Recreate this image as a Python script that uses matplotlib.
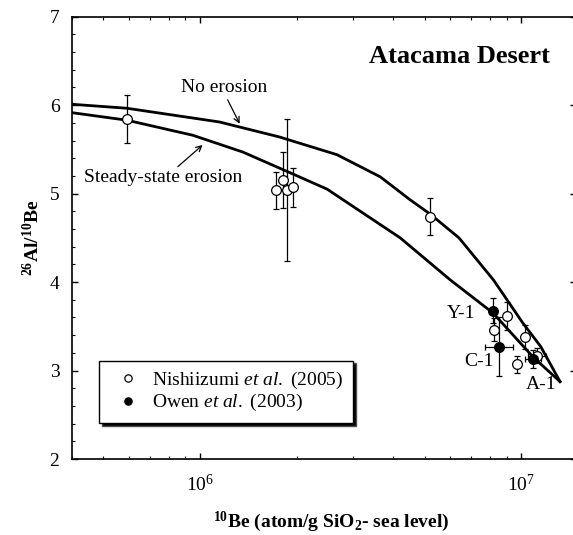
import numpy as np
import matplotlib
matplotlib.use("Agg")
import matplotlib.pyplot as plt
from matplotlib.ticker import MultipleLocator, NullFormatter

plt.rcParams['font.family'] = ['Liberation Serif', 'DejaVu Serif']
plt.rcParams['mathtext.fontset'] = 'custom'
plt.rcParams['mathtext.rm'] = 'Liberation Serif'
plt.rcParams['mathtext.it'] = 'Liberation Serif:italic'
plt.rcParams['mathtext.bf'] = 'Liberation Serif:bold'

# model curves (10Be, 26Al/10Be)
no_eros_x = [4.0e5, 5.93e5, 1.15e6, 1.77e6, 2.67e6, 3.64e6, 4.51e6, 5.2e6, 6.4e6, 8.19e6, 1.01e7, 1.15e7, 1.32e7]
no_eros_y = [6.01, 5.965, 5.81, 5.64, 5.44, 5.19, 4.93, 4.77, 4.50, 4.025, 3.54, 3.27, 2.875]
ss_eros_x = [4.0e5, 5.93e5, 9.5e5, 1.36e6, 1.87e6, 2.49e6, 2.79e6, 4.20e6, 6.01e6, 8.17e6, 1.09e7, 1.32e7]
ss_eros_y = [5.915, 5.83, 5.66, 5.47, 5.25, 5.05, 4.93, 4.50, 4.025, 3.65, 3.15, 2.875]

# Nishiizumi et al. (2005)
nish_x = [5.93e5, 1.73e6, 1.82e6, 1.86e6, 1.95e6, 5.2e6, 8.24e6, 9.02e6, 9.7e6, 1.03e7, 1.12e7]
nish_y = [5.84, 5.04, 5.155, 5.04, 5.07, 4.74, 3.46, 3.62, 3.07, 3.38, 3.17]
nish_err = [0.27, 0.21, 0.32, 0.80, 0.22, 0.21, 0.13, 0.16, 0.10, 0.14, 0.09]
nish_xerr = [0, 0, 0, 0, 0, 0, 0, 0, 0, 0, 0.07e7]

# Owen et al. (2003)
owen_x = [8.17e6, 8.55e6, 1.09e7]
owen_y = [3.675, 3.27, 3.13]
owen_err = [0.14, 0.33, 0.10]
owen_xerr = [0, 0.85e6, 0.06e7]
owen_names = ['Y-1', 'C-1', 'A-1']

fig = plt.figure(figsize=(5.73, 5.35), dpi=100)
ax = fig.add_axes([72 / 573, 76 / 535, 504 / 573, 442.3 / 535])

ax.plot(no_eros_x, no_eros_y, color='black', lw=2.0)
ax.plot(ss_eros_x, ss_eros_y, color='black', lw=2.0)

ax.errorbar(nish_x, nish_y, yerr=nish_err, xerr=nish_xerr, fmt='none',
            ecolor='black', elinewidth=0.9, capsize=2.5, capthick=0.9, zorder=3)
ax.errorbar(owen_x, owen_y, yerr=owen_err, xerr=owen_xerr, fmt='none',
            ecolor='black', elinewidth=0.9, capsize=2.5, capthick=0.9, zorder=3)
ax.plot(nish_x, nish_y, 'o', mfc='white', mec='black', mew=0.9, ms=7,
        zorder=4, label=r'Nishiizumi $\mathit{et\ al.}$ (2005)')
ax.plot(owen_x, owen_y, 'o', mfc='black', mec='black', mew=0.9, ms=7,
        zorder=4, label=r'Owen $\mathit{et\ al.}$ (2003)')

ax.text(7.2e6, 3.64, owen_names[0], fontsize=14, ha='right', va='center')
ax.text(8.2e6, 3.10, owen_names[1], fontsize=14, ha='right', va='center')
ax.text(1.15e7, 2.84, owen_names[2], fontsize=14, ha='center', va='center')

ax.text(1.19e6, 6.205, 'No erosion', fontsize=14, ha='center', va='center')
ax.annotate('', xy=(1.33e6, 5.79), xytext=(1.22e6, 6.06),
            arrowprops=dict(arrowstyle='->', color='black', lw=0.9, shrinkA=0, shrinkB=0))
ax.text(7.67e5, 5.177, 'Steady-state erosion', fontsize=14, ha='center', va='center')
ax.annotate('', xy=(1.02e6, 5.55), xytext=(8.54e5, 5.305),
            arrowprops=dict(arrowstyle='->', color='black', lw=0.9, shrinkA=0, shrinkB=0))

ax.text(0.948, 0.91, 'Atacama Desert', transform=ax.transAxes, fontsize=19,
        fontweight='bold', ha='right', va='center')

ax.set_xscale('log')
ax.set_xlim(4.0e5, 1.48e7)
ax.set_ylim(2, 7)
ax.yaxis.set_major_locator(MultipleLocator(1))
ax.yaxis.set_minor_locator(MultipleLocator(0.2))
ax.xaxis.set_minor_formatter(NullFormatter())
ax.tick_params(which='both', direction='in', top=True, right=True, labelsize=14)
ax.tick_params(which='major', length=4.5, width=1)
ax.tick_params(which='minor', length=2.5, width=0.8)
ax.tick_params(axis='y', pad=9)
ax.tick_params(axis='x', pad=11)
for s in ax.spines.values():
    s.set_linewidth(1.2)

ax.set_ylabel(r'$\mathbf{^{26}Al/^{10}Be}$', fontsize=14, labelpad=5)
ax.set_xlabel(r'$^{\mathbf{10}}$Be (atom/g SiO$_{\mathbf{2}}$- sea level)',
              fontsize=14, fontweight='bold')
ax.xaxis.set_label_coords(0.515, -0.115)

leg = ax.legend(loc='lower left', bbox_to_anchor=(0.054, 0.081), borderaxespad=0,
                fontsize=14, fancybox=False, frameon=True, handlelength=2.0,
                handletextpad=0.2, borderpad=0.5, labelspacing=0.05,
                shadow={'facecolor': 'black', 'alpha': 1.0}, markerscale=0.75)
leg.get_frame().set_edgecolor('black')
leg.get_frame().set_linewidth(1.0)

fig.savefig('out.png', dpi=100)
